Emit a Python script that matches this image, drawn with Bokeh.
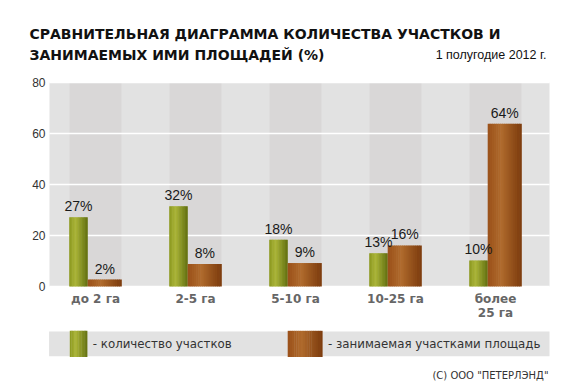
from bokeh.plotting import figure
from bokeh.models import Range1d
from bokeh.core.properties import value
from bokeh.embed import file_html
from bokeh.resources import INLINE

# ---------------- data ----------------
categories = ["до 2 га", "2-5 га", "5-10 га", "10-25 га", "более\n25 га"]
plots_share = [27.2, 31.5, 18.3, 13.0, 10.2]    # количество участков (bar heights)
area_share = [2.7, 8.8, 9.2, 16.1, 63.8]        # занимаемая площадь (bar heights)
plots_labels = [27, 32, 18, 13, 10]
area_labels = [2, 8, 9, 16, 64]
y_ticks = [0, 20, 40, 60, 80]

title_line1 = "СРАВНИТЕЛЬНАЯ  ДИАГРАММА  КОЛИЧЕСТВА  УЧАСТКОВ И"
title_line2 = "ЗАНИМАЕМЫХ  ИМИ  ПЛОЩАДЕЙ  (%)"
period = "1 полугодие 2012 г."
legend_plots = "- количество участков"
legend_area = "- занимаемая участками площадь"
copyright_text = '(С) ООО "ПЕТЕРЛЭНД"'

# ---------------- styles ----------------
def hx(c):
    return tuple(int(c[i:i + 2], 16) for i in (1, 3, 5))

def ramp(stops, n):
    out = []
    for k in range(n):
        t = (k + 0.5) / n
        for (t0, c0), (t1, c1) in zip(stops[:-1], stops[1:]):
            if t0 <= t <= t1:
                f = (t - t0) / (t1 - t0)
                a, b = hx(c0), hx(c1)
                out.append("#%02x%02x%02x" % tuple(round(a[j] + (b[j] - a[j]) * f) for j in range(3)))
                break
    return out

GREEN = ramp([(0, "#8a981f"), (0.35, "#abb538"), (1, "#637110")], 12)
BROWN = ramp([(0, "#9a501a"), (0.4, "#b06b2d"), (1, "#7c3b0d")], 16)

# ---------------- canvas & scales ----------------
W, H = 580, 390
FL, FT, FR, FB = 49, 82, 549, 286          # plot area on the page
X0 = -0.46                                  # category value at plot-area left edge
PXU_X = (FR - FL) / len(categories)         # px per category
PXU_Y = (FB - FT) / 80.0                    # px per percent

p = figure(width=W, height=H, x_range=Range1d(0, W), y_range=Range1d(H, 0),
           output_backend="svg", toolbar_location=None, min_border=0,
           x_axis_location=None, y_axis_location=None)
p.grid.visible = False
p.outline_line_color = None
p.background_fill_color = "white"
p.border_fill_color = "white"
p.extra_x_ranges = {"cat": Range1d(X0 - FL / PXU_X, X0 + (W - FL) / PXU_X)}
p.extra_y_ranges = {"val": Range1d(-(H - FB) / PXU_Y, FB / PXU_Y)}
C = dict(x_range_name="cat", y_range_name="val")

n = len(categories)
idx = list(range(n))
x_end = X0 + n

# plot area background and bands
p.quad(left=[X0], right=[x_end], bottom=[0], top=[80], fill_color="#e2e2e2", line_color=None, **C)
p.quad(left=[i - 0.26 for i in idx], right=[i + 0.26 for i in idx], bottom=0, top=80,
       fill_color="#d9d7d7", line_color=None, **C)
# horizontal grid
p.segment(x0=[X0] * len(y_ticks), x1=[x_end] * len(y_ticks), y0=y_ticks, y1=y_ticks,
          line_color="white", line_width=1.5, **C)

# bars as gradient strips
gw = 0.18 / len(GREEN)
for k, c in enumerate(GREEN):
    p.vbar(x=[i - 0.26 + gw * (k + 0.5) for i in idx], top=plots_share, bottom=0,
           width=gw + 0.006, fill_color=c, line_color=None, **C)
bw = 0.335 / len(BROWN)
for k, c in enumerate(BROWN):
    p.vbar(x=[i - 0.075 + bw * (k + 0.5) for i in idx], top=area_share, bottom=0,
           width=bw + 0.006, fill_color=c, line_color=None, **C)

lbl_font = dict(text_font=value("Liberation Sans"), text_font_size="14px",
                text_align="center", text_baseline="bottom", text_color="#1a1a1a")
p.text(x=[i - 0.17 for i in idx], y=plots_share, text=[f"{v}%" for v in plots_labels],
       y_offset=-3, **lbl_font, **C)
p.text(x=[i + 0.0925 for i in idx], y=area_share, text=[f"{v}%" for v in area_labels],
       y_offset=-3, **lbl_font, **C)

# y tick labels (x in page px, y on value scale)
p.text(x=[FL - 4] * len(y_ticks), y=y_ticks, text=[str(t) for t in y_ticks],
       text_align="right", text_baseline="middle", text_font=value("Liberation Sans"),
       text_font_size="12px", text_color="#333333", y_range_name="val")
# category labels (x on category scale, y in page px)
p.text(x=idx, y=[FB + 5] * n, text=categories, text_align="center", text_baseline="top",
       text_font=value("DejaVu Sans"), text_font_style="bold", text_font_size="12px",
       text_line_height=1.05, text_color="#666666", x_range_name="cat")

# ---------------- title ----------------
p.text(x=[29, 29], y=[33, 54.5], text=[title_line1, title_line2],
       text_font=value("DejaVu Sans"), text_font_style="bold", text_font_size="14px",
       text_baseline="alphabetic", text_color="#111111")
p.text(x=[546], y=[54.5], text=[period], text_align="right",
       text_font=value("Liberation Sans"), text_font_size="12.5px",
       text_baseline="alphabetic", text_color="#111111")

# ---------------- legend + copyright ----------------
p.quad(left=[48.6], right=[549], top=[331], bottom=[355.8], fill_color="#e2e2e2", line_color=None)
sw = (86.5 - 69.3) / len(GREEN)
p.quad(left=[69.3 + sw * k for k in range(len(GREEN))],
       right=[69.3 + sw * (k + 1) + 0.4 for k in range(len(GREEN))],
       top=330.3, bottom=356.5, fill_color=GREEN, line_color=None)
sb = (321.7 - 287.2) / len(BROWN)
p.quad(left=[287.2 + sb * k for k in range(len(BROWN))],
       right=[287.2 + sb * (k + 1) + 0.4 for k in range(len(BROWN))],
       top=330.3, bottom=356.5, fill_color=BROWN, line_color=None)
p.text(x=[92.3, 327.5], y=[343.4, 343.4], text=[legend_plots, legend_area],
       text_font=value("DejaVu Sans"), text_font_size="11.8px",
       text_baseline="middle", text_color="#333333")
p.text(x=[548], y=[375], text=[copyright_text], text_align="right",
       text_font=value("DejaVu Sans"), text_font_size="10px",
       text_baseline="middle", text_color="#333333")

open("out.html", "w").write(file_html(p, INLINE))
